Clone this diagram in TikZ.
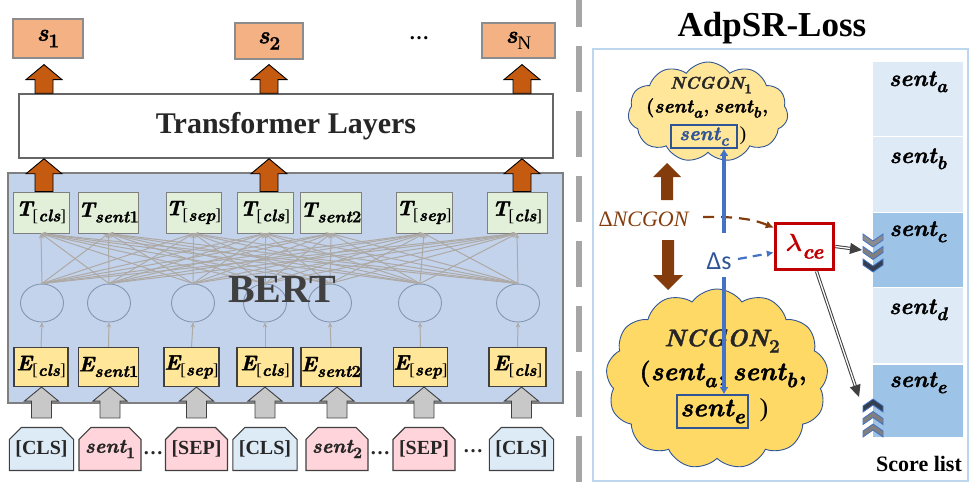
\documentclass[tikz,border=0pt]{standalone}
\usepackage{amsmath}
\usepackage{graphicx}
\usepackage{fontspec}
\setmainfont{Liberation Serif}
\newfontfamily\calibfont{Carlito}
\newfontfamily\mlfont{Latin Modern Roman}[BoldItalicFeatures={FakeBold=1.5},BoldFeatures={FakeBold=1.2}]
\usetikzlibrary{arrows.meta,calc,shapes.geometric,shapes.misc,shapes.symbols}

\definecolor{scorefill}{HTML}{F4B183}
\definecolor{scoreedge}{HTML}{8C8C8C}
\definecolor{arrorange}{HTML}{C55A11}
\definecolor{bertfill}{HTML}{C4D3EC}
\definecolor{bertedge}{HTML}{7F7F7F}
\definecolor{tfill}{HTML}{E2F0D9}
\definecolor{efill}{HTML}{FFE699}
\definecolor{meshgray}{HTML}{ADA9A5}
\definecolor{neuron}{HTML}{8497B0}
\definecolor{inarrow}{HTML}{C8C8C8}
\definecolor{tokblue}{HTML}{DDEBF7}
\definecolor{tokpink}{HTML}{FFD5DB}
\definecolor{inkdark}{HTML}{262626}
\definecolor{divider}{HTML}{A6A6A6}
\definecolor{framecol}{HTML}{BDD7EE}
\definecolor{celllight}{HTML}{DEEBF7}
\definecolor{celldark}{HTML}{9DC3E6}
\definecolor{cloudlight}{HTML}{FFE699}
\definecolor{clouddark}{HTML}{FFD966}
\definecolor{cloudedge}{HTML}{2F5597}
\definecolor{brownarr}{HTML}{843C0C}
\definecolor{lossred}{HTML}{C00000}
\definecolor{bluebar}{HTML}{4472C4}
\definecolor{deltablue}{HTML}{2F5597}
\definecolor{chevgray}{HTML}{7F7F7F}
\definecolor{chevlight}{HTML}{8C8C8C}
\definecolor{chevdark}{HTML}{333F50}
\definecolor{dblgray}{HTML}{404040}

\newcommand\fs[1]{\fontsize{#1}{#1}\selectfont}
% bold italic symbol text, bold upright, lowered subscript
\newcommand\ml[1]{{\mlfont\bfseries\itshape #1}}
\newcommand\mb[1]{{\mlfont\bfseries #1}}
\newcommand\sub[1]{\raisebox{-0.27em}{\scalebox{0.8}{#1}}}

% block arrows: [style]{tail}{tip}{half head width}{half shaft width}{head length}
\newcommand\blockup[6][]{%
  \path[#1] let \p1=#2, \p2=#3 in
    (\x2-#5,\y1) -- (\x2-#5,\y2-#6) -- (\x2-#4,\y2-#6) -- (\x2,\y2)
    -- (\x2+#4,\y2-#6) -- (\x2+#5,\y2-#6) -- (\x2+#5,\y1) -- cycle;}
\newcommand\blockdown[6][]{%
  \path[#1] let \p1=#2, \p2=#3 in
    (\x2-#5,\y1) -- (\x2-#5,\y2+#6) -- (\x2-#4,\y2+#6) -- (\x2,\y2)
    -- (\x2+#4,\y2+#6) -- (\x2+#5,\y2+#6) -- (\x2+#5,\y1) -- cycle;}
% chevrons (x of left edge, y of top edge, fill colour)
\newcommand\chevdown[3]{%
  \filldraw[fill=#3, draw=bluebar, line width=0.8]
    (#1,#2) -- (#1+10,#2+7) -- (#1+20,#2) -- (#1+20,#2+6) -- (#1+10,#2+13) -- (#1,#2+6) -- cycle;}
\newcommand\chevup[3]{%
  \filldraw[fill=#3, draw=bluebar, line width=0.8]
    (#1,#2+13) -- (#1+10,#2+6) -- (#1+20,#2+13) -- (#1+20,#2+7) -- (#1+10,#2) -- (#1,#2+7) -- cycle;}

\begin{document}
\begin{tikzpicture}[x=1pt,y=-1pt,
  outbox/.style={draw=scoreedge, line width=1.2, fill=scorefill, inner sep=0, font=\fs{24}},
  tbox/.style={draw=bertedge, line width=1, fill=tfill, minimum height=41, inner sep=0, font=\fs{21}},
  ebox/.style={draw=dblgray, line width=1.1, fill=efill, minimum height=39, inner sep=0, font=\fs{21}},
  neuronst/.style={ellipse, draw=neuron, line width=0.9, minimum width=43, minimum height=38, inner sep=0},
  meshline/.style={draw=meshgray, line width=1, -{Stealth[length=5pt,width=4.5pt]}},
  tokbox/.style={chamfered rectangle, chamfered rectangle corners={north west,north east},
    chamfered rectangle xsep=6pt, chamfered rectangle ysep=6pt, draw=dblgray, line width=1.1,
    minimum height=43, inner sep=0, font=\fs{20}, text=inkdark},
  orangearr/.style={draw=black, line width=0.9, fill=arrorange},
  grayarr/.style={draw=dblgray, line width=0.9, fill=inarrow},
  brownblock/.style={fill=brownarr},
  cellst/.style={draw=white, line width=1.5, minimum width=91, inner sep=0},
  celltext/.style={font=\fs{23}},
  cloudst/.style={cloud, cloud ignores aspect, draw=cloudedge, line width=0.9, inner sep=0},
  innerbox/.style={draw=cloudedge, line width=1.6, inner sep=0, text=cloudedge},
  dblarrow/.style={draw=dblgray, double=white, double distance=1.3pt, line width=1,
    -{Triangle[length=12pt,width=11pt]}},
  bluebarst/.style={draw=bluebar, line width=4, -{Latex[length=7pt,width=9pt]}}
]
\useasboundingbox (0,0) rectangle (971,485);

% ---------------- left: BERT + transformer ----------------
\node[draw=bertedge, line width=1.8, fill=bertfill, minimum width=555, minimum height=230, inner sep=0] (bert) at (285.5,288) {};

\foreach \i/\tx/\tw/\tl in {1/41/56/{\ml{T}\sub{[\ml{cls}]}},2/108.5/57/{\ml{T}\sub{\ml{sent}\mb{1}}},3/193.5/55/{\ml{T}\sub{[\ml{sep}]}},4/265/56/{\ml{T}\sub{[\ml{cls}]}},5/331/60/{\ml{T}\sub{\ml{sent}\mb{2}}},6/424/56/{\ml{T}\sub{[\ml{sep}]}},7/517/60/{\ml{T}\sub{[\ml{cls}]}}}
  \node[tbox, minimum width=\tw] (t\i) at (\tx,212.5) {\tl};

\foreach \i/\nx in {1/42,2/109,3/193,4/265,5/330,6/420,7/518}
  \node[neuronst] (n\i) at (\nx,303) {};

\foreach \i in {1,...,7}
  \foreach \j in {1,...,7}
    \draw[meshline] (n\i.north) -- (t\j.south);

\node[font=\fs{40}\bfseries, text=dblgray, anchor=base] (bertlbl) at (282,302) {BERT};

\foreach \i/\ex/\ew/\el in {1/41/54/{\ml{E}\sub{[\ml{cls}]}},2/108.5/59/{\ml{E}\sub{\ml{sent}\mb{1}}},3/191.5/55/{\ml{E}\sub{[\ml{sep}]}},4/265/56/{\ml{E}\sub{[\ml{cls}]}},5/331/60/{\ml{E}\sub{\ml{sent}\mb{2}}},6/420.5/53/{\ml{E}\sub{[\ml{sep}]}},7/517.5/57/{\ml{E}\sub{[\ml{cls}]}}}
  \node[ebox, minimum width=\ew] (e\i) at (\ex,367) {\el};

\foreach \i in {1,...,7}
  \draw[meshline] (e\i.north) -- (n\i.south);

% input tokens
\node[tokbox, fill=tokblue, minimum width=59] (k1) at (41.5,449) {\textbf{[CLS]}};
\node[tokbox, fill=tokpink, minimum width=58] (k2) at (110,449) {\ml{sent}\sub{\mb{1}}};
\node[tokbox, fill=tokpink, minimum width=53] (k3) at (196.5,449) {\textbf{[SEP]}};
\node[tokbox, fill=tokblue, minimum width=56] (k4) at (265,449) {\textbf{[CLS]}};
\node[tokbox, fill=tokpink, minimum width=60] (k5) at (337,449) {\ml{sent}\sub{\mb{2}}};
\node[tokbox, fill=tokpink, minimum width=60] (k6) at (424,449) {\textbf{[SEP]}};
\node[tokbox, fill=tokblue, minimum width=61] (k7) at (521.5,449) {\textbf{[CLS]}};
\node[font=\fs{20}\bfseries, text=inkdark] (dots1) at (153,453) {…};
\node[font=\fs{20}\bfseries, text=inkdark] (dots2) at (380,453) {…};
\node[font=\fs{20}\bfseries, text=inkdark] (dots3) at (473,451) {…};

\foreach \i in {1,...,7}
  \blockup[grayarr]{($(k\i.north)+(0,-9)$)}{(k\i.north |- e\i.south)}{17pt}{10pt}{14pt};

% transformer layers
\node[draw=dblgray!80, line width=1.5, fill=white, minimum width=534, minimum height=64, inner sep=0,
      font=\fs{30}\bfseries, text=inkdark] (tr) at (286,126) {Transformer Layers};

% outputs
\node[outbox, minimum width=70, minimum height=39] (s1) at (48,38.5) {\ml{s}\sub{\mb{1}}};
\node[outbox, minimum width=68, minimum height=36] (s2) at (269,41) {\ml{s}\sub{\mb{2}}};
\node[outbox, minimum width=73, minimum height=35] (sN) at (518.5,40.5) {\ml{s}\sub{N}};
\node[font=\fs{20}\bfseries] (dotsTop) at (419,38) {…};

\foreach \k/\dx in {1/3,4/4,7/5}{
  \blockup[orangearr]{($(t\k.north)+(\dx,0)$)}{($(t\k.north |- tr.south)+(\dx,0)$)}{18pt}{9pt}{15pt};
}
\blockup[orangearr]{($(t1.north |- tr.north)+(3,0)$)}{($(t1.north |- s1.south)+(3,6)$)}{18pt}{9pt}{15pt};
\blockup[orangearr]{($(t4.north |- tr.north)+(4,0)$)}{($(t4.north |- s2.south)+(4,5)$)}{18pt}{9pt}{15pt};
\blockup[orangearr]{($(t7.north |- tr.north)+(5,0)$)}{($(t7.north |- sN.south)+(5,6)$)}{18pt}{9pt}{15pt};

% ---------------- divider ----------------
\draw[divider, line width=6, dash pattern=on 46pt off 19pt] (579,-19) -- (579,490);

% ---------------- right: AdpSR-Loss ----------------
\node[font=\fs{35}\bfseries, text=black, anchor=base] (title) at (772,36) {AdpSR-Loss};
\node[draw=framecol, line width=2, minimum width=375, minimum height=432, inner sep=0] (frame) at (780.5,265) {};

% score list
\node[cellst, fill=celllight, minimum height=75] (ca) at (918,99) {};
\node[cellst, fill=celllight, minimum height=76] (cb) at (918,174.5) {};
\node[cellst, fill=celldark,  minimum height=75] (cc) at (918,250) {};
\node[cellst, fill=celllight, minimum height=76] (cd) at (918,325.5) {};
\node[cellst, fill=celldark,  minimum height=73] (ce) at (918,401) {};
\node[celltext] (la) at ($(ca.north)+(0,21)$) {\ml{sent}\sub{\ml{a}}};
\node[celltext] (lb) at ($(cb.north)+(0,23)$) {\ml{sent}\sub{\ml{b}}};
\node[celltext] (lc) at ($(cc.north)+(0,20)$) {\ml{sent}\sub{\ml{c}}};
\node[celltext] (ld) at ($(cd.north)+(0,23)$) {\ml{sent}\sub{\ml{d}}};
\node[celltext] (le) at ($(ce.north)+(0,19)$) {\ml{sent}\sub{\ml{e}}};
\node[font=\fs{22}\bfseries] (slist) at (919,464) {Score list};

% clouds
\node[cloudst, fill=cloudlight, cloud puffs=11, cloud puff arc=110, minimum width=160, minimum height=100] (cl1) at (708,112) {};
\node[font=\fs{17}, text=inkdark] (nc1) at (711,85) {\ml{NCGON}\sub{\mb{1}}};
\node[font=\fs{19}, text=black] (nc1b) at (707,108) {\mb{(}\ml{sent}\sub{\ml{a}}\kern1pt\mb{,} \ml{sent}\sub{\ml{b}}\kern1pt\mb{,}};
\node[innerbox, minimum width=66, minimum height=23, font=\fs{20}] (sc1) at (704,136.5) {\ml{sent}\sub{\ml{c}}};
\node[font=\fs{20}] (nc1c) at (743,136) {)};

\node[cloudst, fill=clouddark, cloud puffs=13, cloud puff arc=110, minimum width=222, minimum height=180] (cl2) at (717,379) {};
\node[font=\fs{24}, text=inkdark] (nc2) at (722,341) {\ml{NCGON}\sub{\mb{2}}};
\node[font=\fs{26}, text=black] (nc2b) at (723,374) {\mb{(}\ml{sent}\sub{\ml{a}}\kern1.5pt\mb{,}\ \ml{sent}\sub{\ml{b}}\kern1.5pt\mb{,}};
\node[innerbox, minimum width=71, minimum height=33, font=\fs{26}, text=black] (se2) at (712.5,411.5) {\ml{sent}\sub{\ml{e}}};
\node[font=\fs{26}] (nc2c) at (764,410) {)};

% brown block arrows
\coordinate (bu0) at (667,200);
\coordinate (bu1) at (667,163);
\coordinate (bd0) at (668,240);
\coordinate (bd1) at (668,290);
\blockup[brownblock]{(bu0)}{(bu1)}{14pt}{6pt}{14pt};
\blockdown[brownblock]{(bd0)}{(bd1)}{15pt}{6pt}{15pt};
\node[font=\fs{22}, text=brownarr] (dN) at (644,219) {Δ\textit{NCGON}};

% loss weight
\node[draw=lossred, line width=3.5, fill=white, minimum width=58, minimum height=46, inner sep=0,
      font=\fs{26}\boldmath, text=lossred] (lam) at (804.5,246.5) {$\lambda$\sub{\ml{ce}}};
\node[font=\fs{26}\calibfont, text=deltablue] (ds) at (719,261) {Δs};

\draw[brownarr, line width=2.2, dash pattern=on 11pt off 7pt, -{Latex[length=8pt,width=8pt]}]
  ($(dN.east)+(10,-2)$) .. controls (745,216) and (760,222) .. ($(lam.north west)+(0,6)$);
\draw[bluebar, line width=2.2, dash pattern=on 9pt off 6pt, -{Latex[length=7pt,width=7pt]}]
  ($(ds.east)+(3,-2)$) -- ($(lam.west)+(0,6)$);

% delta-s bar
\coordinate (bup) at (724,233);
\coordinate (bdn) at (724,277);
\draw[bluebarst] (bup) -- (bup |- sc1.south);
\draw[bluebarst] (bdn) -- (bdn |- se2.north);

% chevrons and arrows to the score list
\chevdown{863}{234}{chevlight}
\chevdown{863}{246.5}{chevgray}
\chevdown{863}{259}{chevdark}
\chevup{863}{399}{chevdark}
\chevup{863}{411.5}{chevgray}
\chevup{863}{424}{chevgray}
\coordinate (chc) at (862,250);
\coordinate (che) at (859,397);
\draw[dblarrow] (lam.east) -- (chc);
\draw[dblarrow] ($(lam.south)+(12,0)$) -- (che);
\end{tikzpicture}
\end{document}
